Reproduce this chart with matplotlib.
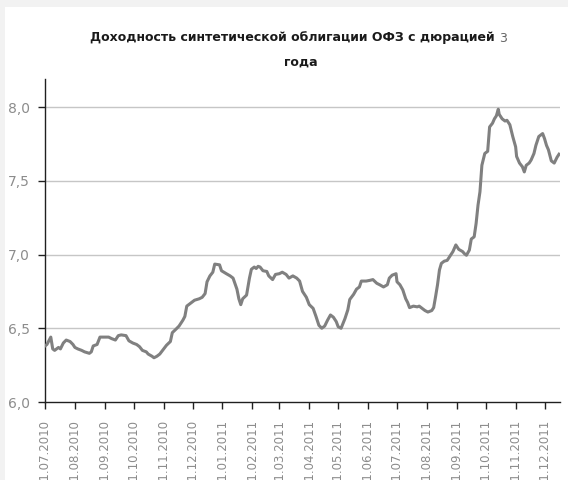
import matplotlib
matplotlib.use("Agg")
import matplotlib.pyplot as plt
from matplotlib.patches import Rectangle
from matplotlib.ticker import FuncFormatter
import pandas as pd

plt.rcParams['font.family'] = ['DejaVu Sans']

title_main = "Доходность синтетической облигации ОФЗ с дюрацией"
title_num = "3"
title_line2 = "года"

dates = [
    "2010-07-01", "2010-07-03", "2010-07-07", "2010-07-09", "2010-07-11", "2010-07-15",
    "2010-07-17", "2010-07-20", "2010-07-23", "2010-07-27", "2010-07-30", "2010-08-01",
    "2010-08-04", "2010-08-08", "2010-08-11", "2010-08-16", "2010-08-18", "2010-08-20",
    "2010-08-24", "2010-08-27", "2010-08-30", "2010-09-05", "2010-09-08", "2010-09-12",
    "2010-09-15", "2010-09-18", "2010-09-23", "2010-09-26", "2010-09-30", "2010-10-04",
    "2010-10-07", "2010-10-10", "2010-10-14", "2010-10-16", "2010-10-20", "2010-10-22",
    "2010-10-25", "2010-10-28", "2010-11-01", "2010-11-04", "2010-11-08", "2010-11-10",
    "2010-11-14", "2010-11-17", "2010-11-21", "2010-11-23", "2010-11-25", "2010-11-29",
    "2010-12-03", "2010-12-08", "2010-12-11", "2010-12-14", "2010-12-16", "2010-12-19",
    "2010-12-22", "2010-12-24", "2010-12-29", "2010-12-31", "2011-01-05", "2011-01-09",
    "2011-01-12", "2011-01-16", "2011-01-18", "2011-01-20", "2011-01-22", "2011-01-26",
    "2011-01-29", "2011-01-31", "2011-02-03", "2011-02-05", "2011-02-07", "2011-02-09",
    "2011-02-12", "2011-02-16", "2011-02-18", "2011-02-22", "2011-02-25", "2011-03-01",
    "2011-03-04", "2011-03-08", "2011-03-11", "2011-03-15", "2011-03-19", "2011-03-22",
    "2011-03-25", "2011-03-29", "2011-04-01", "2011-04-05", "2011-04-08", "2011-04-11",
    "2011-04-14", "2011-04-17", "2011-04-20", "2011-04-23", "2011-04-26", "2011-04-29",
    "2011-05-01", "2011-05-04", "2011-05-08", "2011-05-11", "2011-05-13", "2011-05-17",
    "2011-05-20", "2011-05-23", "2011-05-25", "2011-05-30", "2011-06-03", "2011-06-06",
    "2011-06-10", "2011-06-13", "2011-06-17", "2011-06-21", "2011-06-23", "2011-06-26",
    "2011-06-30", "2011-07-01", "2011-07-04", "2011-07-07", "2011-07-10", "2011-07-12",
    "2011-07-14", "2011-07-18", "2011-07-22", "2011-07-24", "2011-07-27", "2011-07-30",
    "2011-08-02", "2011-08-06", "2011-08-08", "2011-08-10", "2011-08-12", "2011-08-14",
    "2011-08-16", "2011-08-19", "2011-08-22", "2011-08-25", "2011-08-28", "2011-08-31",
    "2011-09-03", "2011-09-07", "2011-09-09", "2011-09-11", "2011-09-14", "2011-09-16",
    "2011-09-19", "2011-09-21", "2011-09-23", "2011-09-25", "2011-09-27", "2011-09-30",
    "2011-10-03", "2011-10-05", "2011-10-08", "2011-10-10", "2011-10-12", "2011-10-14",
    "2011-10-15", "2011-10-18", "2011-10-21", "2011-10-23", "2011-10-26", "2011-10-29",
    "2011-11-01", "2011-11-02", "2011-11-05", "2011-11-08", "2011-11-10", "2011-11-12",
    "2011-11-15", "2011-11-17", "2011-11-20", "2011-11-22", "2011-11-25", "2011-11-29",
    "2011-12-01", "2011-12-03", "2011-12-05", "2011-12-08", "2011-12-11", "2011-12-14",
    "2011-12-16",
]

yields = [
    6.38, 6.39, 6.44, 6.36, 6.35, 6.37,
    6.36, 6.40, 6.42, 6.41, 6.39, 6.37,
    6.36, 6.35, 6.34, 6.33, 6.34, 6.38,
    6.39, 6.44, 6.44, 6.44, 6.43, 6.42,
    6.45, 6.455, 6.45, 6.415, 6.40, 6.39,
    6.375, 6.35, 6.34, 6.325, 6.31, 6.30,
    6.31, 6.325, 6.36, 6.385, 6.41, 6.47,
    6.495, 6.515, 6.555, 6.58, 6.65, 6.67,
    6.69, 6.70, 6.71, 6.735, 6.815, 6.855,
    6.88, 6.935, 6.93, 6.89, 6.87, 6.855,
    6.84, 6.765, 6.70, 6.66, 6.70, 6.725,
    6.84, 6.90, 6.915, 6.905, 6.92, 6.915,
    6.89, 6.885, 6.855, 6.83, 6.865, 6.87,
    6.88, 6.865, 6.84, 6.855, 6.84, 6.82,
    6.75, 6.71, 6.66, 6.635, 6.58, 6.52,
    6.50, 6.515, 6.555, 6.59, 6.575, 6.545,
    6.51, 6.50, 6.565, 6.625, 6.695, 6.73,
    6.765, 6.78, 6.82, 6.82, 6.825, 6.83,
    6.805, 6.795, 6.78, 6.795, 6.84, 6.86,
    6.87, 6.815, 6.795, 6.76, 6.70, 6.675,
    6.64, 6.65, 6.645, 6.65, 6.635, 6.62,
    6.61, 6.62, 6.64, 6.715, 6.795, 6.895,
    6.94, 6.955, 6.96, 6.99, 7.02, 7.065,
    7.035, 7.02, 7.005, 6.995, 7.03, 7.105,
    7.12, 7.21, 7.335, 7.425, 7.605, 7.685,
    7.70, 7.865, 7.89, 7.92, 7.94, 7.985,
    7.95, 7.92, 7.905, 7.91, 7.88, 7.80,
    7.73, 7.665, 7.62, 7.595, 7.56, 7.605,
    7.62, 7.64, 7.685, 7.74, 7.80, 7.82,
    7.785, 7.74, 7.71, 7.635, 7.62, 7.66,
    7.68,
]

tick_dates = pd.date_range("2010-07-01", "2011-12-01", freq="MS")
y_ticks = [6.0, 6.5, 7.0, 7.5, 8.0]

x = pd.to_datetime(dates)

fig = plt.figure(figsize=(5.68, 4.80), dpi=100)
fig.patch.set_facecolor('#f2f2f2')
fig.patches.append(Rectangle((5 / 568, 0), 1, (480 - 7) / 480, transform=fig.transFigure,
                             facecolor='white', edgecolor='none', zorder=-10))

ax = fig.add_axes([45 / 568, 1 - 402 / 480, (560 - 45) / 568, (402 - 79) / 480])
ax.set_facecolor('none')
ax.plot(x, yields, color='#808080', lw=2.2, solid_joinstyle='round', zorder=3)

ax.set_ylim(6.0, 8.19)
ax.set_xlim(pd.Timestamp("2010-07-01"), pd.Timestamp("2011-12-17"))
ax.set_yticks(y_ticks)
ax.yaxis.set_major_formatter(FuncFormatter(lambda v, p: f"{v:.1f}".replace('.', ',')))
ax.set_xticks(tick_dates)
ax.set_xticklabels([d.strftime("%d.%m.%Y") for d in tick_dates], rotation=90)

for v in y_ticks[1:]:
    ax.axhline(v, color='#c6c6c6', lw=1.0, zorder=1)

for s in ['top', 'right']:
    ax.spines[s].set_visible(False)
for s in ['left', 'bottom']:
    ax.spines[s].set_color('#202020')
    ax.spines[s].set_linewidth(1.0)

ax.tick_params(axis='y', direction='out', length=5, width=1, color='#202020',
               labelcolor='#8c8c8c', labelsize=10, pad=6)
ax.tick_params(axis='x', direction='out', length=5, width=1, color='#202020',
               labelcolor='#8c8c8c', labelsize=8.5, pad=8)
for lab in ax.get_xticklabels():
    lab.set_va('top')

ty1 = 1 - 38 / 480
t1 = fig.text(90 / 568, ty1, title_main + " ", ha='left', va='center',
              fontsize=9.0, fontweight='bold', color='#1a1a1a')
fig.canvas.draw()
bb = t1.get_window_extent()
fig.text(bb.x1 / fig.bbox.width, ty1, title_num, ha='left', va='center',
         fontsize=9.0, fontweight='normal', color='#666666')
fig.text(301 / 568, 1 - 62 / 480, title_line2, ha='center', va='center',
         fontsize=9.0, fontweight='bold', color='#1a1a1a')

fig.savefig("out.png", dpi=100)
